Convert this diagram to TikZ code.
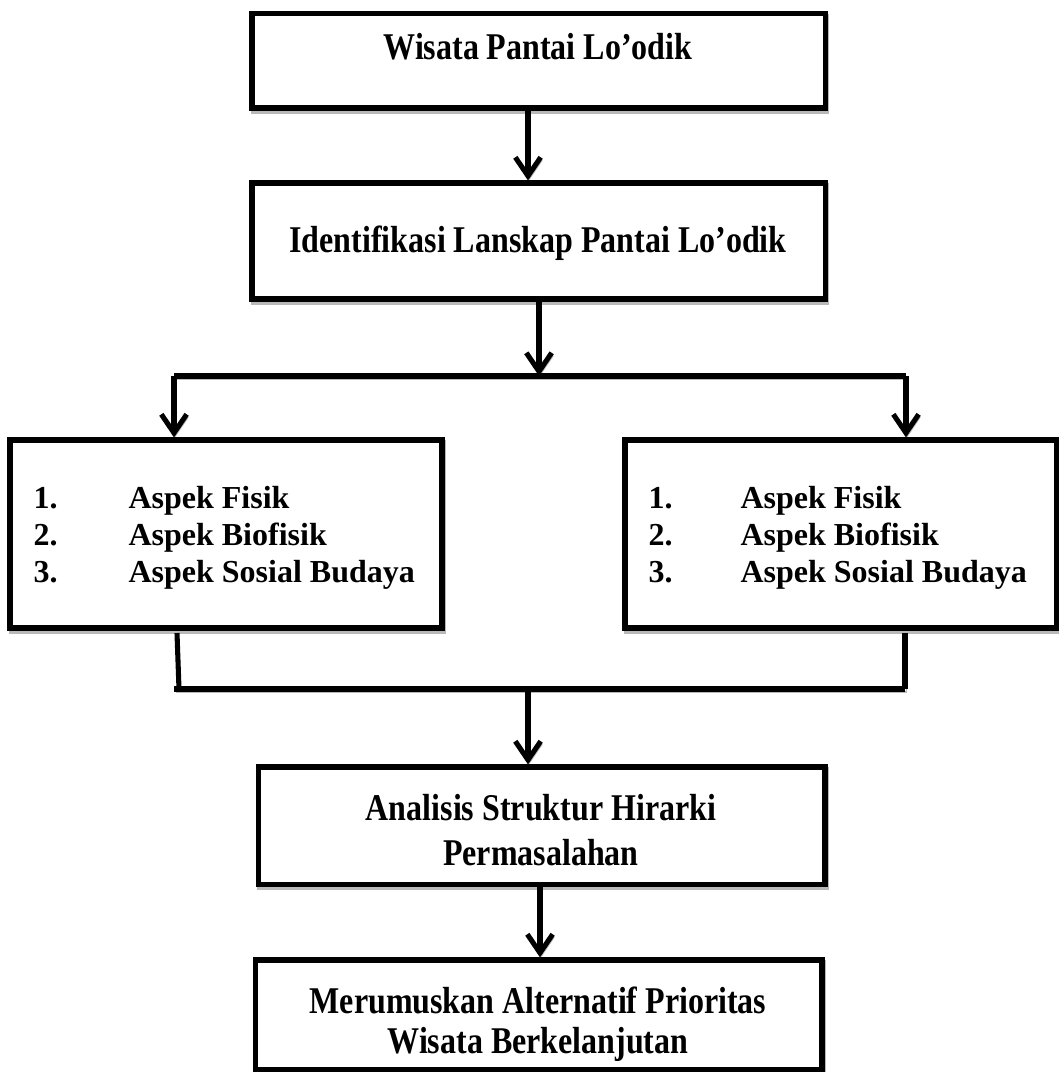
\documentclass[tikz,border=0pt]{standalone}
\usepackage{fontspec}
\setmainfont{Liberation Serif}
\usetikzlibrary{arrows.meta}
\newcommand\tallt[1]{\scalebox{1}[1.18]{#1}}
\begin{document}
\begin{tikzpicture}[x=0.375pt,y=-0.375pt,
  shad/.style={preaction={draw=gray!55, transform canvas={shift={(1.5,3)}}}},
  box/.style={draw=black, fill=white, line width=1.9pt, inner sep=0pt, shad},
  conn/.style={draw=black, line width=1.9pt, shad},
  arr/.style={conn, -{Straight Barb[length=7pt,width=9.5pt]}},
  txt/.style={font=\fontsize{12pt}{14pt}\selectfont\bfseries, inner sep=0pt}]
\useasboundingbox (0,0) rectangle (1059,1072);
% boxes
\node[box, minimum width=214.9pt, minimum height=35.6pt] (b1) at (538.5,60.5) {};
\node[box, minimum width=214.9pt, minimum height=43.5pt] (b2) at (538.5,241) {};
\node[box, minimum width=162pt, minimum height=70.5pt] (bl) at (226,534) {};
\node[box, minimum width=162pt, minimum height=70.5pt] (br) at (841,534) {};
\node[box, minimum width=212.6pt, minimum height=43.9pt] (b3) at (541.5,825.5) {};
\node[box, minimum width=212.6pt, minimum height=40.9pt] (b4) at (538.5,1014.5) {};
% texts
\node[txt] (t1) at (538,47) {\tallt{Wisata Pantai Lo’odik}};
\node[txt] (t2) at (538,243) {\tallt{Identifikasi Lanskap Pantai Lo’odik}};
\node[txt, anchor=base west] (ln1) at (33,508) {1.};
\node[txt, anchor=base west] (ln2) at (33,545) {2.};
\node[txt, anchor=base west] (ln3) at (33,582) {3.};
\node[txt, anchor=base west] (lt1) at (128,508) {Aspek Fisik};
\node[txt, anchor=base west] (lt2) at (128,545) {Aspek Biofisik};
\node[txt, anchor=base west] (lt3) at (128,582) {Aspek Sosial Budaya};
\node[txt, anchor=base west] (rn1) at (648,508) {1.};
\node[txt, anchor=base west] (rn2) at (648,545) {2.};
\node[txt, anchor=base west] (rn3) at (648,582) {3.};
\node[txt, anchor=base west] (rt1) at (740,508) {Aspek Fisik};
\node[txt, anchor=base west] (rt2) at (740,545) {Aspek Biofisik};
\node[txt, anchor=base west] (rt3) at (740,582) {Aspek Sosial Budaya};
\node[txt] (t3a) at (541,808) {\tallt{Analisis Struktur Hirarki}};
\node[txt] (t3b) at (541,853) {\tallt{Permasalahan}};
\node[txt] (t4a) at (538,1000) {\tallt{Merumuskan Alternatif Prioritas}};
\node[txt] (t4b) at (538,1044) {\tallt{Wisata Berkelanjutan}};
% junction coordinates
\coordinate (xa) at (528,0);
\coordinate (xb) at (539,0);
\coordinate (xd) at (540,0);
\coordinate (j1) at (539,376);
\coordinate (hl) at (174,376);
\coordinate (hr) at (906,376);
\coordinate (ll1) at (177,633);
\coordinate (ll2) at (179,689);
\coordinate (rl1) at (905,633);
\coordinate (rl2) at (905,689);
\coordinate (bl2) at (174,689);
\coordinate (j2) at (528,689);
% connectors
\draw[arr] (b1.south -| xa) -- (b2.north -| xa);
\draw[arr] (b2.south -| xb) -- (j1);
\draw[conn] (hl) -- (hr);
\draw[arr] (hl) -- (bl.north -| hl);
\draw[arr] (hr) -- (br.north -| hr);
\draw[conn] (ll1) -- (ll2);
\draw[conn] (rl1) -- (rl2);
\draw[conn] (bl2) -- (rl2);
\draw[arr] (j2) -- (b3.north -| j2);
\draw[arr] (b3.south -| xd) -- (b4.north -| xd);
\end{tikzpicture}
\end{document}
